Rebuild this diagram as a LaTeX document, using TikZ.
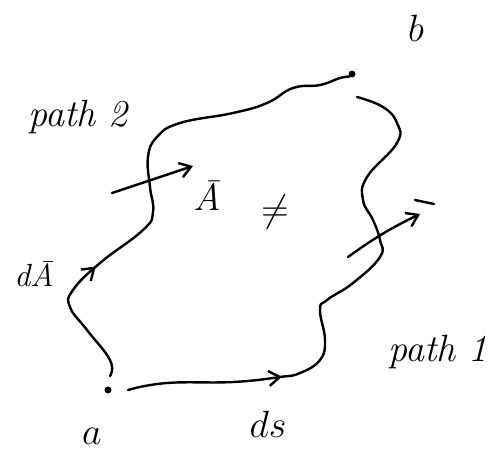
\RequirePackage{fix-cm}
\documentclass[tikz,border=0pt]{standalone}
\usetikzlibrary{arrows.meta,decorations.markings}
\begin{document}
\begin{tikzpicture}[x=1pt,y=-1pt,
  ink/.style={line width=2.4pt,line cap=round,line join=round},
  lbl/.style={font=\fontsize{38}{42}\selectfont\itshape,inner sep=0pt},
  sml/.style={font=\fontsize{32}{36}\selectfont\itshape,inner sep=0pt},
  tip/.style={-{Straight Barb[length=11pt,width=15pt,line width=2.4pt]}},
  dotnode/.style={circle,fill=black,inner sep=0pt,minimum size=7pt},
  midarrow/.style={postaction={decorate},decoration={markings,mark=at position #1 with {\arrow{Straight Barb[length=11pt,width=15pt,line width=2.4pt]}}}}
]
\useasboundingbox (0,0) rectangle (503,459);
\node[dotnode] (a) at (108,390) {};
\node[dotnode] (b) at (352,74) {};
\node[lbl] (la) at (92,436) {$a$};
\node[lbl] (lb) at (416,28) {$b$};
\node[lbl] (lds) at (268,424) {$ds$};
\node[lbl] (lp1) at (438,352) {path 1};
\node[lbl] (lp2) at (78,117) {path 2};
\node[sml] (ldA) at (34,274) {d\={A}};
\node[lbl] (lA) at (207,196) {\={A}};
\node[lbl] (lne) at (275,212) {$\neq$};
\coordinate (p2s) at (110,376);
\coordinate (p1s) at (128,390);
\coordinate (p1e) at (357,97);
% path 2 : a -> b along the left
\draw[ink,midarrow=0.27] plot[smooth,tension=0.75] coordinates {(p2s) (110,360) (87,330) (70,307) (73,290) (100,263) (143,230) (153,212) (150,187) (148,157) (157,137) (180,123) (233,113) (267,103) (293,88) (320,85) (340,78) (b.south west)};
% path 1 : a -> b along the right
\draw[ink,midarrow=0.29] plot[smooth,tension=0.75] coordinates {(p1s) (167,383) (233,382) (280,377) (300,373) (320,360) (325,340) (320,310) (327,300) (353,283) (380,257) (380,240) (373,220) (363,200) (367,177) (397,143) (397,123) (383,107) (p1e)};
% field arrows
\coordinate (f1s) at (112,193);
\coordinate (f1e) at (193,166);
\draw[ink,tip] (f1s) -- (f1e);
\coordinate (f2s) at (348,257);
\coordinate (f2e) at (420,214);
\draw[ink,tip] (f2s) to[bend left=5] (f2e);
\coordinate (bar1) at (415,200);
\coordinate (bar2) at (434,204);
\draw[ink] (bar1) -- (bar2);
\end{tikzpicture}
\end{document}
